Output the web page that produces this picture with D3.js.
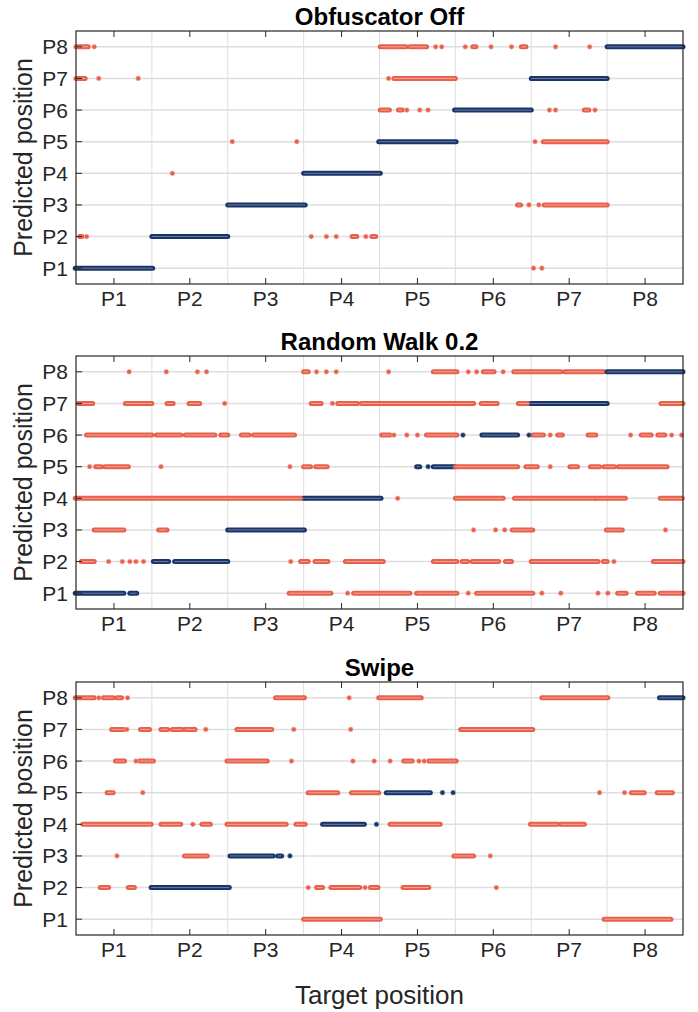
<!doctype html>
<html>
<head>
<meta charset="utf-8"/>
<title>Predicted vs target position</title>
<script src="https://cdnjs.cloudflare.com/ajax/libs/d3/7.8.5/d3.min.js"></script>
<style>
  body { margin: 0; background: #fff; }
  svg { display: block; font-family: "Liberation Sans", Arial, sans-serif; }
</style>
</head>
<body>
<svg id="chart" width="698" height="1012"></svg>
<script>
// tick labels shared by both axes
var positions = ["P1", "P2", "P3", "P4", "P5", "P6", "P7", "P8"];
var titles = ["Obfuscator Off", "Random Walk 0.2", "Swipe"];

// runs of samples: [predicted row, x start, x end] in target units (0.5..8.5)
// a run with start == end is a single sample
var offRuns = [
  [8, 0.5, 0.66], [8, 0.74, 0.74], [8, 4.51, 4.85], [8, 4.9, 5.12], [8, 5.24, 5.24], [8, 5.32, 5.32],
  [8, 5.63, 5.63], [8, 5.73, 5.77], [8, 5.97, 5.97], [8, 6.24, 6.24], [8, 6.37, 6.43], [8, 6.82, 6.82],
  [8, 7.27, 7.27], [8, 7.5, 8.5],
  [7, 0.5, 0.62], [7, 0.8, 0.8], [7, 1.32, 1.32], [7, 4.62, 4.62], [7, 4.69, 5.5], [7, 6.5, 7.5],
  [6, 4.51, 4.63], [6, 4.75, 4.8], [6, 4.86, 4.86], [6, 5.03, 5.03], [6, 5.14, 5.14], [6, 5.49, 6.5],
  [6, 6.74, 6.74], [6, 6.82, 6.82], [6, 7.2, 7.26], [6, 7.34, 7.34],
  [5, 2.56, 2.56], [5, 3.41, 3.41], [5, 4.49, 5.51], [5, 6.55, 6.55], [5, 6.66, 7.5],
  [4, 1.77, 1.77], [4, 3.5, 4.51],
  [3, 2.5, 3.52], [3, 6.32, 6.36], [3, 6.47, 6.47], [3, 6.6, 6.6], [3, 6.67, 7.5],
  [2, 0.55, 0.58], [2, 0.64, 0.64], [2, 1.5, 2.5], [2, 3.6, 3.6], [2, 3.8, 3.8], [2, 3.93, 3.93],
  [2, 4.14, 4.2], [2, 4.32, 4.32], [2, 4.4, 4.45],
  [1, 0.49, 1.51], [1, 6.53, 6.53], [1, 6.64, 6.64]
];

var walkRuns = [
  [8, 1.2, 1.2], [8, 1.69, 1.69], [8, 2.1, 2.1], [8, 2.22, 2.22], [8, 3.5, 3.56], [8, 3.67, 3.67],
  [8, 3.8, 3.8], [8, 3.93, 3.93], [8, 4.62, 4.62], [8, 5.21, 5.52], [8, 5.67, 5.67], [8, 5.78, 5.78],
  [8, 5.87, 6.01], [8, 6.13, 6.13], [8, 6.27, 6.89], [8, 6.94, 7.46], [8, 7.5, 8.5],
  [7, 0.53, 0.72], [7, 1.15, 1.5], [7, 1.7, 1.78], [7, 1.99, 2.13], [7, 2.46, 2.46], [7, 3.6, 3.73],
  [7, 3.88, 3.88], [7, 3.95, 4.21], [7, 4.26, 5.74], [7, 5.84, 6.05], [7, 6.33, 6.49], [7, 6.5, 7.5],
  [7, 8.21, 8.5],
  [6, 0.64, 1.5], [6, 1.56, 1.88], [6, 1.94, 2.33], [6, 2.41, 2.5], [6, 2.68, 2.78], [6, 2.84, 3.38],
  [6, 4.53, 4.64], [6, 4.69, 4.69], [6, 4.86, 4.86], [6, 5.0, 5.0], [6, 5.12, 5.52], [6, 5.6, 5.6],
  [6, 5.85, 6.32], [6, 6.47, 6.47], [6, 6.52, 6.66], [6, 6.75, 6.75], [6, 6.85, 6.91], [6, 7.25, 7.35],
  [6, 7.81, 7.81], [6, 7.95, 8.08], [6, 8.17, 8.26], [6, 8.35, 8.35], [6, 8.48, 8.48],
  [5, 0.68, 0.68], [5, 0.76, 0.83], [5, 0.88, 1.19], [5, 1.62, 1.62], [5, 3.32, 3.32], [5, 3.5, 3.59],
  [5, 3.66, 3.81], [5, 4.99, 5.03], [5, 5.14, 5.14], [5, 5.21, 5.5], [5, 5.5, 6.32], [5, 6.43, 6.58],
  [5, 6.75, 6.75], [5, 7.01, 7.11], [5, 7.28, 7.4], [5, 7.46, 7.6], [5, 7.65, 8.29],
  [4, 0.49, 3.51], [4, 3.51, 4.52], [4, 4.74, 4.74], [4, 5.5, 6.13], [4, 6.28, 7.34], [4, 7.35, 7.74],
  [4, 8.2, 8.49],
  [3, 0.74, 1.13], [3, 1.59, 1.7], [3, 2.5, 3.51], [3, 5.74, 5.74], [3, 6.03, 6.03], [3, 6.15, 6.15],
  [3, 6.25, 6.52], [3, 7.49, 7.7], [3, 8.27, 8.27],
  [2, 0.57, 0.74], [2, 0.93, 0.93], [2, 1.11, 1.11], [2, 1.21, 1.21], [2, 1.29, 1.29], [2, 1.39, 1.39],
  [2, 1.52, 1.72], [2, 1.8, 2.5], [2, 3.33, 3.33], [2, 3.46, 3.56], [2, 3.65, 3.82], [2, 4.05, 4.55],
  [2, 5.21, 5.52], [2, 5.59, 5.66], [2, 5.72, 6.07], [2, 6.16, 6.24], [2, 6.5, 7.38], [2, 7.45, 7.5],
  [2, 7.59, 7.59], [2, 8.11, 8.5],
  [1, 0.49, 1.13], [1, 1.21, 1.3], [1, 3.31, 3.86], [1, 4.08, 4.08], [1, 4.16, 4.9], [1, 4.99, 5.52],
  [1, 5.67, 5.67], [1, 5.78, 6.52], [1, 6.64, 6.64], [1, 6.89, 6.89], [1, 7.38, 7.38], [1, 7.51, 7.51],
  [1, 7.64, 7.75], [1, 7.9, 8.12], [1, 8.2, 8.5]
];

var swipeRuns = [
  [8, 0.49, 0.74], [8, 0.8, 0.8], [8, 0.86, 0.99], [8, 1.04, 1.1], [8, 1.18, 1.18], [8, 3.13, 3.51],
  [8, 4.1, 4.1], [8, 4.49, 5.05], [8, 6.64, 7.51], [8, 8.19, 8.5],
  [7, 0.97, 1.13], [7, 1.17, 1.17], [7, 1.35, 1.47], [7, 1.62, 1.71], [7, 1.77, 1.9], [7, 1.94, 2.07],
  [7, 2.21, 2.21], [7, 2.62, 3.08], [7, 3.37, 3.37], [7, 4.12, 4.12], [7, 5.57, 6.52],
  [6, 1.02, 1.14], [6, 1.29, 1.29], [6, 1.34, 1.52], [6, 2.49, 3.02], [6, 3.34, 3.34], [6, 4.15, 4.15],
  [6, 4.43, 4.43], [6, 4.64, 4.64], [6, 4.82, 4.93], [6, 5.02, 5.02], [6, 5.09, 5.09], [6, 5.15, 5.51],
  [5, 0.91, 0.99], [5, 1.38, 1.38], [5, 3.56, 3.95], [5, 4.13, 4.49], [5, 4.59, 5.17], [5, 5.33, 5.33],
  [5, 5.47, 5.47], [5, 7.4, 7.4], [5, 7.73, 7.73], [5, 7.82, 7.99], [5, 8.16, 8.36],
  [4, 0.59, 1.49], [4, 1.62, 1.88], [4, 2.04, 2.04], [4, 2.16, 2.27], [4, 2.49, 3.27], [4, 3.4, 3.52],
  [4, 3.75, 4.3], [4, 4.46, 4.46], [4, 4.64, 5.3], [4, 6.49, 6.85], [4, 6.89, 7.2],
  [3, 1.04, 1.04], [3, 1.93, 2.23], [3, 2.53, 3.1], [3, 3.16, 3.21], [3, 3.32, 3.32], [3, 5.48, 5.74],
  [3, 5.96, 5.96],
  [2, 0.82, 0.93], [2, 1.19, 1.27], [2, 1.49, 2.52], [2, 3.56, 3.56], [2, 3.67, 3.75], [2, 3.86, 4.24],
  [2, 4.31, 4.31], [2, 4.38, 4.48], [2, 4.81, 5.15], [2, 6.04, 6.04],
  [1, 3.5, 4.51], [1, 7.46, 8.34]
];

var panelRuns = [offRuns, walkRuns, swipeRuns];

var left = 76, right = 683;
var panelTops = [31, 356, 682];
var panelHeight = 253;

var red = "#e8604c", redLight = "#f6b5a8";
var blue = "#1b3468", blueLight = "#7d8fb5";
var axisColor = "#262626", gridColor = "#dedede";

var svg = d3.select("#chart");

var xScale = d3.scaleLinear().domain([0.5, 8.5]).range([left, right]);
var xTicks = d3.range(1, 9);
var xGrid = d3.range(1.5, 8, 1);

panelRuns.forEach(function (runs, i) {
  var top = panelTops[i], bottom = top + panelHeight;
  var yScale = d3.scaleLinear().domain([0.5, 8.5]).range([bottom, top]);
  var g = svg.append("g");

  // grid
  g.selectAll(".vgrid").data(xGrid).enter().append("line")
    .attr("x1", function (d) { return xScale(d); })
    .attr("x2", function (d) { return xScale(d); })
    .attr("y1", top).attr("y2", bottom)
    .attr("stroke", gridColor).attr("stroke-width", 1);
  g.selectAll(".hgrid").data(xTicks).enter().append("line")
    .attr("x1", left).attr("x2", right)
    .attr("y1", function (d) { return yScale(d); })
    .attr("y2", function (d) { return yScale(d); })
    .attr("stroke", gridColor).attr("stroke-width", 1.5);

  // runs
  function colorOf(r) { return Math.round((r[1] + r[2]) / 2) === r[0] ? "b" : "r"; }
  var lines = runs.filter(function (r) { return r[2] > r[1]; });
  var dots = runs.filter(function (r) { return r[2] <= r[1]; });

  g.selectAll(".run").data(lines).enter().append("line")
    .attr("x1", function (d) { return xScale(d[1]); })
    .attr("x2", function (d) { return xScale(d[2]); })
    .attr("y1", function (d) { return yScale(d[0]); })
    .attr("y2", function (d) { return yScale(d[0]); })
    .attr("stroke", function (d) { return colorOf(d) === "b" ? blue : red; })
    .attr("stroke-width", 5)
    .attr("stroke-linecap", "round");
  g.selectAll(".runhi").data(lines).enter().append("line")
    .attr("x1", function (d) { return xScale(d[1]); })
    .attr("x2", function (d) { return xScale(d[2]); })
    .attr("y1", function (d) { return yScale(d[0]); })
    .attr("y2", function (d) { return yScale(d[0]); })
    .attr("stroke", function (d) { return colorOf(d) === "b" ? blueLight : redLight; })
    .attr("stroke-width", 1)
    .attr("opacity", 0.8);

  g.selectAll(".dot").data(dots).enter().append("circle")
    .attr("cx", function (d) { return xScale(d[1]); })
    .attr("cy", function (d) { return yScale(d[0]); })
    .attr("r", 2.4)
    .attr("fill", function (d) { return colorOf(d) === "b" ? blue : red; })
    .attr("stroke", function (d) { return colorOf(d) === "b" ? blueLight : redLight; })
    .attr("stroke-width", 0.6);

  // box
  g.append("rect")
    .attr("x", left).attr("y", top)
    .attr("width", right - left).attr("height", panelHeight)
    .attr("fill", "none").attr("stroke", axisColor).attr("stroke-width", 1.2);

  // x ticks (inward, top and bottom)
  g.selectAll(".xtb").data(xTicks).enter().append("line")
    .attr("x1", function (d) { return xScale(d); })
    .attr("x2", function (d) { return xScale(d); })
    .attr("y1", bottom).attr("y2", bottom - 6)
    .attr("stroke", axisColor);
  g.selectAll(".xtt").data(xTicks).enter().append("line")
    .attr("x1", function (d) { return xScale(d); })
    .attr("x2", function (d) { return xScale(d); })
    .attr("y1", top).attr("y2", top + 6)
    .attr("stroke", axisColor);
  // y ticks
  g.selectAll(".yt").data(xTicks).enter().append("line")
    .attr("x1", left).attr("x2", left + 6)
    .attr("y1", function (d) { return yScale(d); })
    .attr("y2", function (d) { return yScale(d); })
    .attr("stroke", axisColor);

  // tick labels
  g.selectAll(".xl").data(positions).enter().append("text")
    .attr("x", function (d, k) { return xScale(k + 1); })
    .attr("y", bottom + 22)
    .attr("text-anchor", "middle")
    .attr("font-size", 21).attr("fill", "#262626")
    .text(function (d) { return d; });
  g.selectAll(".yl").data(positions).enter().append("text")
    .attr("x", left - 8)
    .attr("y", function (d, k) { return yScale(k + 1) + 7.5; })
    .attr("text-anchor", "end")
    .attr("font-size", 21).attr("fill", "#262626")
    .text(function (d) { return d; });

  // title
  g.append("text")
    .attr("x", (left + right) / 2).attr("y", top - 6.5)
    .attr("text-anchor", "middle")
    .attr("font-size", 24).attr("font-weight", "bold")
    .text(titles[i]);

  // y label
  g.append("text")
    .attr("transform", "translate(32," + ((top + bottom) / 2) + ") rotate(-90)")
    .attr("text-anchor", "middle")
    .attr("font-size", 25).attr("fill", "#262626")
    .text("Predicted position");
});

svg.append("text")
  .attr("x", (left + right) / 2).attr("y", 1004)
  .attr("text-anchor", "middle")
  .attr("font-size", 26).attr("fill", "#262626")
  .text("Target position");
</script>
</body>
</html>
